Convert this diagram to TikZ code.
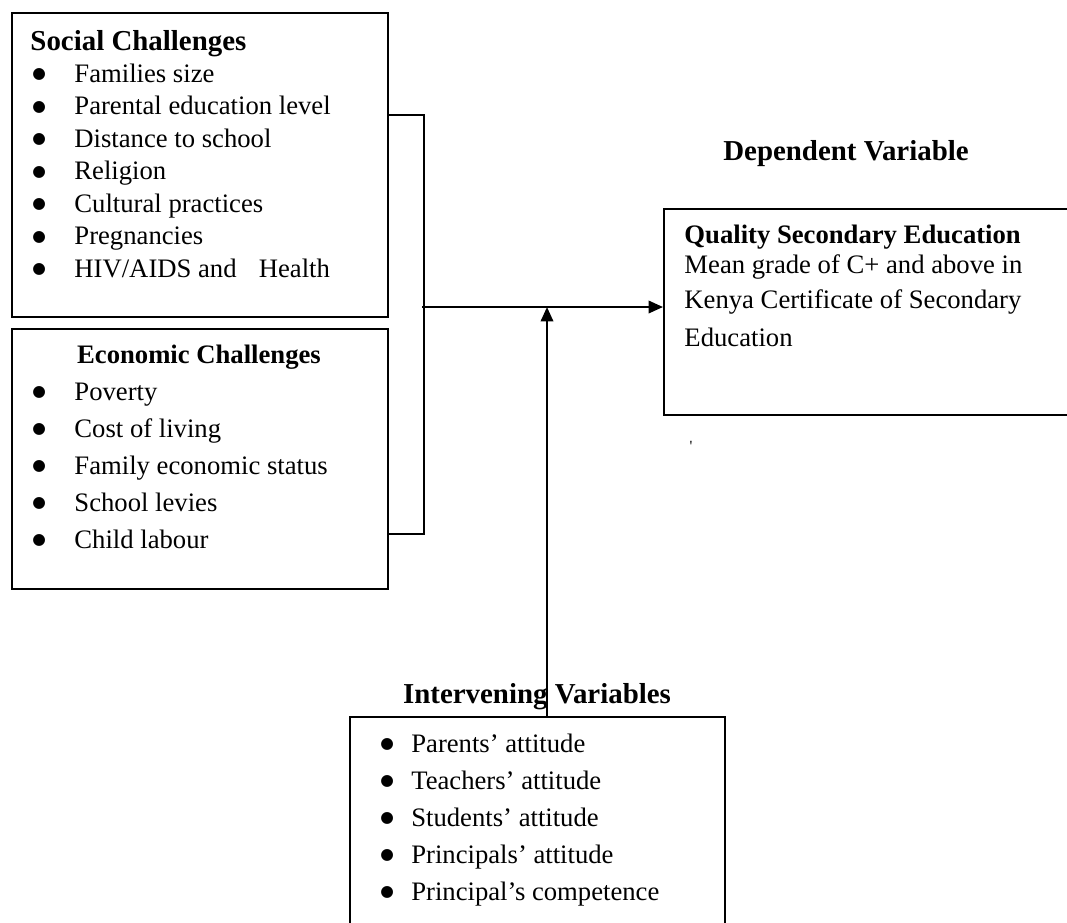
\documentclass[tikz,border=0pt]{standalone}
\usepackage{fontspec}
\setmainfont{Liberation Serif}
\newfontfamily\symfont{DejaVu Sans}
\usepackage{tikz}
\usetikzlibrary{arrows.meta,positioning,calc}

\newcommand{\bul}[1]{\makebox[#1][l]{\raisebox{1.5pt}{\symfont\fontsize{7}{7}\selectfont ●}}}

\begin{document}
\begin{tikzpicture}[
    x=0.45pt, y=-0.45pt,
    every node/.style={font=\fontsize{12}{14}\selectfont, inner sep=0pt},
    box/.style={rectangle, draw, line width=0.8pt, anchor=north west},
    head/.style={font=\fontsize{13}{15}\selectfont\bfseries, anchor=base},
    item/.style={anchor=base west},
    line/.style={line width=0.8pt},
    arr/.style={-{Triangle[length=6.5pt, width=5.6pt]}, line width=1pt},
]
    \useasboundingbox (0,0) rectangle (1067,922);

    % boxes
    \node[box, minimum width=169.2pt, minimum height=136.8pt] (social) at (11,12) {};
    \node[box, minimum width=169.2pt, minimum height=117pt] (econ) at (11,328) {};
    \node[box, minimum width=190pt, minimum height=92.7pt] (dep) at (663,208) {};
    \node[box, minimum width=168.8pt, minimum height=104pt] (interv) at (349,716) {};

    % social challenges
    \node[head, anchor=base west] (sochead) at (30,50) {Social Challenges};
    \node[item] (soc1) at (32,82) {\bul{18.9pt}Families size};
    \node[item] (soc2) at (32,114.5) {\bul{18.9pt}Parental education level};
    \node[item] (soc3) at (32,147) {\bul{18.9pt}Distance to school};
    \node[item] (soc4) at (32,179.5) {\bul{18.9pt}Religion};
    \node[item] (soc5) at (32,212) {\bul{18.9pt}Cultural practices};
    \node[item] (soc6) at (32,244.5) {\bul{18.9pt}Pregnancies};
    \node[item] (soc7) at (32,277) {\bul{18.9pt}HIV/AIDS and\hspace{10pt}Health};

    % economic challenges
    \node[head, font=\fontsize{12}{14}\selectfont\bfseries] (ecohead) at (199,363) {Economic Challenges};
    \node[item] (eco1) at (32,400) {\bul{18.9pt}Poverty};
    \node[item] (eco2) at (32,437) {\bul{18.9pt}Cost of living};
    \node[item] (eco3) at (32,474) {\bul{18.9pt}Family economic status};
    \node[item] (eco4) at (32,511) {\bul{18.9pt}School levies};
    \node[item] (eco5) at (32,548) {\bul{18.9pt}Child labour};

    % dependent variable
    \node[head] (dephead) at (846,160) {Dependent Variable};
    \node[item, font=\fontsize{12}{14}\selectfont\bfseries] (dep1) at (684,243) {Quality Secondary Education};
    \node[item] (dep2) at (684,273) {Mean grade of C+ and above in};
    \node[item] (dep3) at (684,308) {Kenya Certificate of Secondary};
    \node[item] (dep4) at (684,346) {Education};
    \node[font=\fontsize{7}{7}\selectfont] (tick) at (691,446) {\textquotesingle};

    % intervening variables
    \node[head] (inthead) at (537,703) {Intervening Variables};
    \node[item] (int1) at (380,752) {\bul{13.9pt}Parents’ attitude};
    \node[item] (int2) at (380,789) {\bul{13.9pt}Teachers’ attitude};
    \node[item] (int3) at (380,826) {\bul{13.9pt}Students’ attitude};
    \node[item] (int4) at (380,863) {\bul{13.9pt}Principals’ attitude};
    \node[item] (int5) at (380,900) {\bul{13.9pt}Principal’s competence};

    % connectors
    \coordinate (jn) at (422,307);
    \coordinate (up) at ($(interv.north west)+(198,0)$);
    \draw[line] ($(social.north east)+(0,103)$) -- ++(35,0) |- ($(econ.north east)+(0,206)$);
    \draw[arr] (jn) -- (dep.west |- jn);
    \draw[arr] (up) -- (up |- jn);
\end{tikzpicture}
\end{document}
